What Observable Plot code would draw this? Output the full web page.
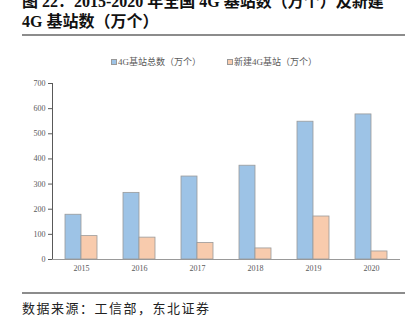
<!DOCTYPE html>
<html>
<head>
<meta charset="utf-8">
<script src="https://cdn.jsdelivr.net/npm/d3@7"></script>
<script src="https://cdn.jsdelivr.net/npm/@observablehq/plot@0.6"></script>
<style>
  html, body { margin: 0; padding: 0; background: #fff; }
  body { width: 414px; height: 322px; position: relative; overflow: hidden; }
  .title { position: absolute; left: 22px; top: -8px; font-family: "Liberation Serif", "Noto Sans CJK SC", serif; font-weight: bold; font-size: 16px; line-height: 20px; color: #111; white-space: nowrap; }
  .rule { position: absolute; left: 22px; width: 383px; height: 2px; background: #8c8c8c; }
  .legend { position: absolute; top: 55px; left: 0; width: 414px; font-family: "Liberation Serif", "Noto Sans CJK SC", serif; font-size: 9px; color: #595959; white-space: nowrap; }
  .legend span.item { position: absolute; top: 0; }
  .legend i { display: inline-block; width: 6px; height: 6px; margin-right: 1px; vertical-align: -0px; border: 0.5px solid #999; box-sizing: border-box; }
  .caption { position: absolute; left: 22px; top: 298px; font-family: "Noto Sans CJK SC", sans-serif; font-size: 13px; letter-spacing: 1.5px; color: #222; white-space: nowrap; }
  #chart { position: absolute; left: 0; top: 72px; }
</style>
</head>
<body>
<div class="title">图 22：2015-2020 年全国 4G 基站数（万个）及新建<br>4G 基站数（万个）</div>
<div class="rule" style="top:34px"></div>
<div class="legend" id="legend"></div>
<div id="chart"></div>
<div class="rule" style="top:292px"></div>
<div class="caption">数据来源：工信部，东北证券</div>
<script>
const years = ["2015", "2016", "2017", "2018", "2019", "2020"];
const totalStations = [178, 265, 330, 373, 548, 577];
const newStations = [93, 87, 66, 44, 171, 32];
const seriesNames = ["4G基站总数（万个）", "新建4G基站（万个）"];
const seriesColors = ["#9DC3E6", "#F8CBAD"];
const yTicks = [0, 100, 200, 300, 400, 500, 600, 700];

const data = years.flatMap((y, i) => [
  {year: y, series: seriesNames[0], value: totalStations[i]},
  {year: y, series: seriesNames[1], value: newStations[i]}
]);

const legend = document.getElementById("legend");
const legendX = [111, 227];
seriesNames.forEach((n, i) => {
  const s = document.createElement("span");
  s.className = "item";
  s.style.left = legendX[i] + "px";
  s.innerHTML = `<i style="background:${seriesColors[i]}"></i>${n}`;
  legend.appendChild(s);
});

const chart = Plot.plot({
  width: 414,
  height: 209,
  marginTop: 11,
  marginBottom: 22,
  marginLeft: 51,
  marginRight: 14,
  style: {fontFamily: "Liberation Serif, serif", fontSize: "8px", color: "#595959", background: "transparent"},
  fx: {domain: years, paddingInner: 0, paddingOuter: 0, label: null, tickSize: 0, tickPadding: 6},
  x: {domain: seriesNames, axis: null, paddingInner: 0, paddingOuter: 0.71},
  y: {domain: [0, 700], ticks: yTicks, label: null, line: true, tickSize: 4, tickPadding: 3},
  color: {domain: seriesNames, range: seriesColors},
  marks: [
    Plot.barY(data, {fx: "year", x: "series", y: "value", fill: "series", stroke: "#9a9a9a", strokeWidth: 0.8}),
    Plot.ruleY([0], {stroke: "#999", strokeWidth: 1.2})
  ]
});
document.getElementById("chart").appendChild(chart);
</script>
</body>
</html>
